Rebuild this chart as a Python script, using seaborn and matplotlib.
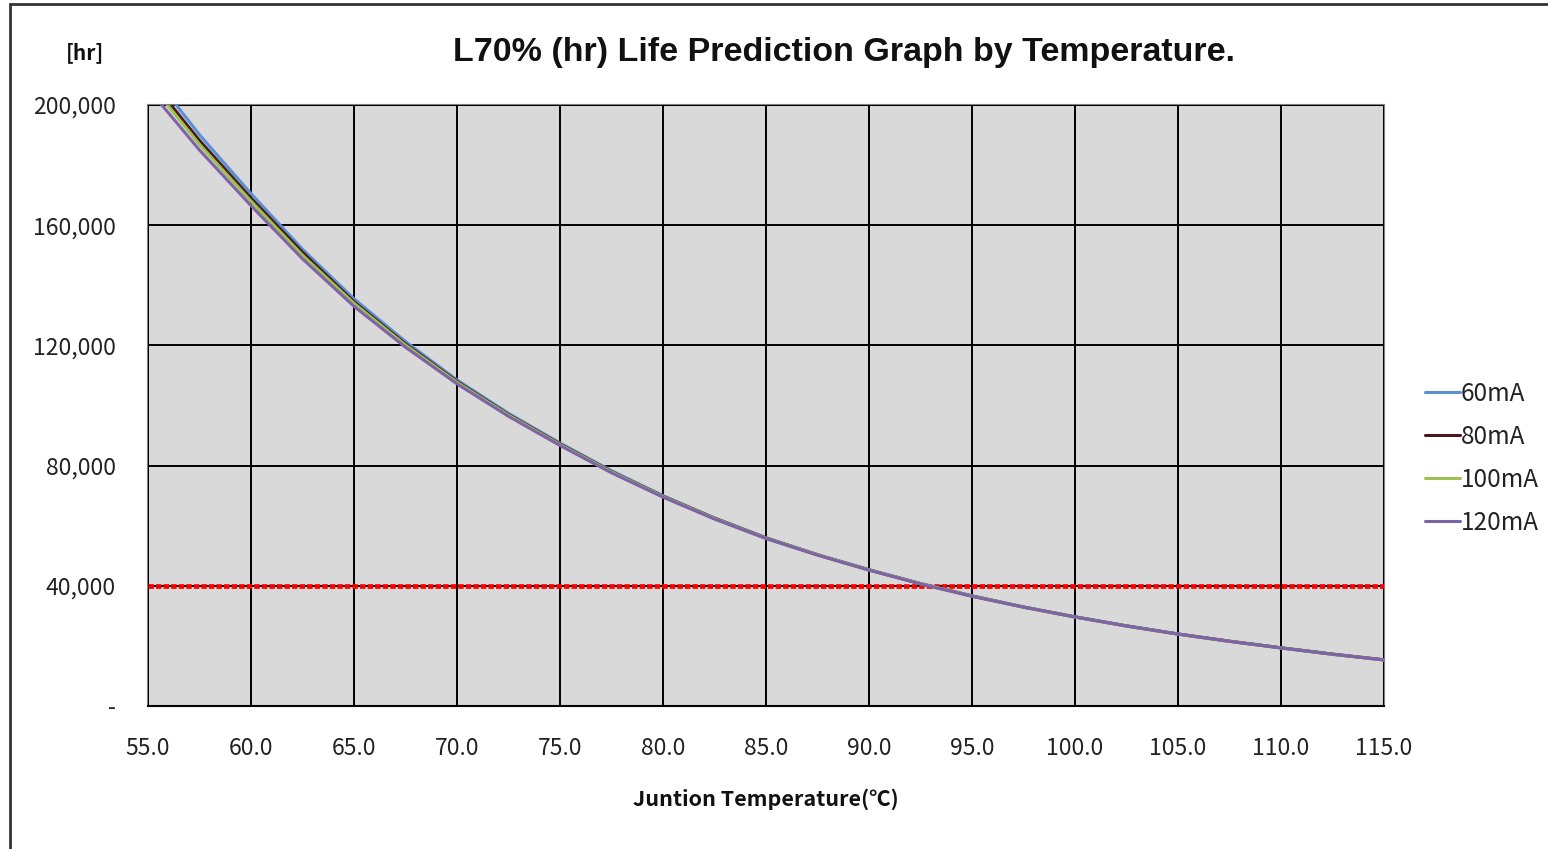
import numpy as np
import pandas as pd
import matplotlib
matplotlib.use("Agg")
import matplotlib.pyplot as plt
from matplotlib.lines import Line2D
import seaborn as sns

# ---- data ----
temps = [55, 57.5, 60, 62.5, 65, 67.5, 70, 72.5, 75, 77.5, 80, 82.5, 85, 87.5,
         90, 92.5, 95, 97.5, 100, 102.5, 105, 107.5, 110, 112.5, 115]
life_60mA = [212000, 190100, 170500, 152000, 135500, 121300, 108500, 97400, 87500, 78300,
             70000, 62600, 56000, 50400, 45400, 40800, 36700, 33000, 29700, 26700,
             24000, 21600, 19400, 17300, 15400]
life_80mA = [209500, 188200, 169000, 151000, 134500, 120500, 108000, 97000, 87200, 78000,
             69800, 62500, 55900, 50300, 45300, 40700, 36600, 32900, 29650, 26650,
             23950, 21550, 19350, 17250, 15350]
life_100mA = [208000, 186900, 168000, 150000, 134000, 120100, 107700, 96800, 87000, 77900,
              69700, 62400, 55800, 50300, 45300, 40700, 36600, 32900, 29600, 26600,
              23900, 21500, 19300, 17200, 15300]
life_120mA = [205500, 185000, 166500, 148800, 133000, 119400, 107200, 96400, 86700, 77600,
              69500, 62200, 55700, 50200, 45200, 40600, 36500, 32900, 29600, 26600,
              23900, 21500, 19300, 17200, 15300]
series_names = ["60mA", "80mA", "100mA", "120mA"]
target_life = 40000
x_ticks = [55, 60, 65, 70, 75, 80, 85, 90, 95, 100, 105, 110, 115]
y_ticks = [0, 40000, 80000, 120000, 160000, 200000]
y_tick_labels = ["-", "40,000", "80,000", "120,000", "160,000", "200,000"]

colors = ["#5B8FD6", "#4A1A1A", "#9BC24E", "#7F62A8"]

df = pd.DataFrame({
    "Temperature": temps * 4,
    "Life": life_60mA + life_80mA + life_100mA + life_120mA,
    "Current": sum([[n] * len(temps) for n in series_names], []),
})

sns.set_theme(style="white")
plt.rcParams["font.family"] = ["Noto Sans CJK KR", "DejaVu Sans"]

fig = plt.figure(figsize=(15.48, 8.49), dpi=100)
ax = fig.add_axes([148 / 1548, 1 - 706 / 849, (1384 - 148) / 1548, (706 - 105) / 849])
ax.set_facecolor("#D9D9D9")

ax.axhline(target_life, color="#FF0000", lw=3.4, ls=(0, (1.15, 0.45)),
           dash_capstyle="butt", zorder=2.7)

sns.lineplot(data=df, x="Temperature", y="Life", hue="Current",
             hue_order=series_names, palette=colors, lw=2.2, ax=ax, zorder=3)

ax.set_xlim(55, 115)
ax.set_ylim(0, 200000)
ax.set_xticks(x_ticks)
ax.set_xticklabels([f"{t:.1f}" for t in x_ticks], fontsize=16.5, color="#222222")
ax.set_yticks(y_ticks)
ax.set_yticklabels(y_tick_labels, fontsize=16.5, color="#222222")
ax.tick_params(axis="x", length=0, pad=22)
ax.tick_params(axis="y", length=0, pad=23)
ax.grid(True, color="black", lw=1.4)
ax.set_axisbelow(False)
for s in ["top", "right", "left"]:
    ax.spines[s].set_color("#7F7F7F")
    ax.spines[s].set_linewidth(1.5)
ax.spines["bottom"].set_color("black")
ax.spines["bottom"].set_linewidth(1.5)

ax.set_xlabel("Juntion Temperature(℃)", fontsize=15.5, fontweight="bold",
              color="#111111", labelpad=21)
ax.set_ylabel("")

leg = ax.legend(loc="center left", bbox_to_anchor=(1.033, 0.412), frameon=False,
                fontsize=17.5, handlelength=1.44, handletextpad=0.05,
                labelspacing=0.7, borderaxespad=0, borderpad=0)
for line in leg.get_lines():
    line.set_linewidth(2.2)
for t in leg.get_texts():
    t.set_color("#222222")

fig.text(844 / 1548, 1 - 52 / 849, "L70% (hr) Life Prediction Graph by Temperature.",
         ha="center", va="center", fontsize=24.5, fontweight="bold",
         family=["Liberation Sans", "DejaVu Sans"], color="#111111")
fig.text(85 / 1548, 1 - 53 / 849, "[hr]", ha="center", va="center",
         fontsize=15, fontweight="bold", color="#111111")

# outer chart border (top and left edges visible)
fig.add_artist(Line2D([10 / 1548, 10 / 1548], [0, 1 - 4 / 849],
                      transform=fig.transFigure, color="#333333", lw=2))
fig.add_artist(Line2D([10 / 1548, 1], [1 - 4 / 849, 1 - 4 / 849],
                      transform=fig.transFigure, color="#333333", lw=2))

fig.savefig("out.png", dpi=100, facecolor="white")
